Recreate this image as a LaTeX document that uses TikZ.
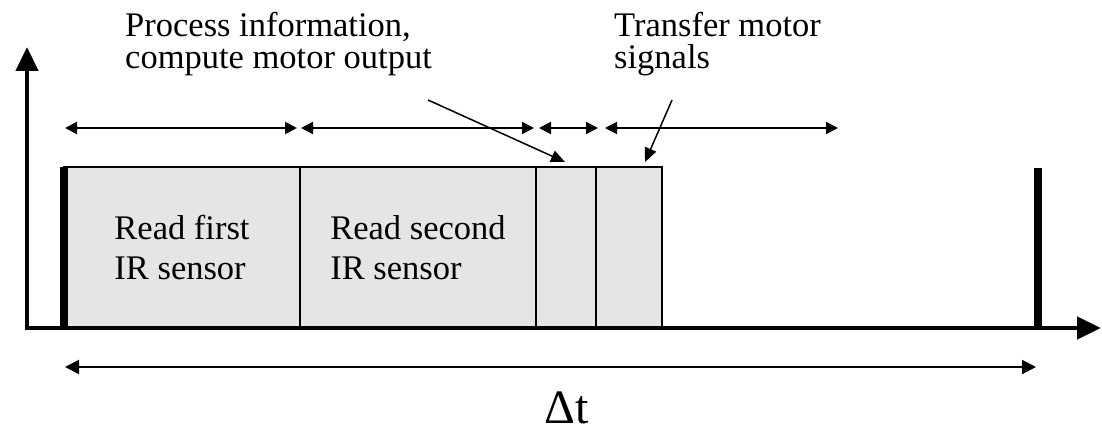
\documentclass[tikz,border=0pt]{standalone}
\usepackage{fontspec}
\setmainfont{Liberation Serif}
\usetikzlibrary{arrows.meta,positioning}

\tikzset{
  stage/.style={draw,fill=black!10,line width=2pt,inner sep=0pt,outer sep=0pt,minimum height=161pt,anchor=south west,align=left,font=\fontsize{34.5}{40}\selectfont},
  span/.style={line width=2pt,{Triangle[length=12pt,width=12pt]}-{Triangle[length=12pt,width=12pt]}},
  total/.style={line width=2pt,{Triangle[length=14pt,width=14pt]}-{Triangle[length=14pt,width=14pt]}},
  axis/.style={line width=4.5pt,{Triangle[length=24pt,width=22pt]}-{Triangle[length=24pt,width=22pt]}},
  bar/.style={line width=8pt},
  pointer/.style={line width=1.5pt,-{Triangle[length=14pt,width=12pt]}},
  note/.style={anchor=base west,inner sep=0pt,align=left,font=\fontsize{34.5}{32}\selectfont}
}

\begin{document}
\begin{tikzpicture}[x=1pt,y=-1pt]
\path[use as bounding box] (0,0) rectangle (1102,433);
% stages of one cycle
\node[stage,minimum width=236pt] (rd1) at (64,328) {Read first\\IR sensor};
\node[stage,minimum width=236pt] (rd2) at (rd1.south east) {Read second\\IR sensor};
\node[stage,minimum width=60pt] (proc) at (rd2.south east) {};
\node[stage,minimum width=66pt] (xfer) at (proc.south east) {};
% axes
\coordinate (org) at (27,328);
\coordinate (xtip) at (1101,328);
\coordinate (ytip) at (27,47);
\draw[axis] (ytip) -- (org) -- (xtip);
% cycle bounds
\coordinate (nxt) at (1038,328);
\coordinate (nxttop) at (1038,168);
\draw[bar] (rd1.south west) -- (rd1.north west);
\draw[bar] (nxt) -- (nxttop);
% durations
\coordinate (s1a) at (65,128);
\coordinate (s1b) at (297,128);
\coordinate (s2a) at (301,128);
\coordinate (s2b) at (534,128);
\coordinate (s3a) at (539,128);
\coordinate (s3b) at (598,128);
\coordinate (s4a) at (605,128);
\coordinate (s4b) at (838,128);
\draw[span] (s1a) -- (s1b);
\draw[span] (s2a) -- (s2b);
\draw[span] (s3a) -- (s3b);
\draw[span] (s4a) -- (s4b);
\coordinate (dta) at (65,367);
\coordinate (dtb) at (1036,367);
\draw[total] (dta) -- (dtb);
\node[anchor=base,inner sep=0pt,font=\fontsize{48}{48}\selectfont] (dt) at (567,423) {Δt};
% notes
\node[note] (procnote) at (125,69) {Process information,\\compute motor output};
\node[note] (xfernote) at (614,69) {Transfer motor\\signals};
\coordinate (proctail) at (428,100);
\coordinate (proctip) at (565,162);
\coordinate (xfertail) at (672,100);
\coordinate (xfertip) at (645,162);
\draw[pointer] (proctail) -- (proctip);
\draw[pointer] (xfertail) -- (xfertip);
\end{tikzpicture}
\end{document}
